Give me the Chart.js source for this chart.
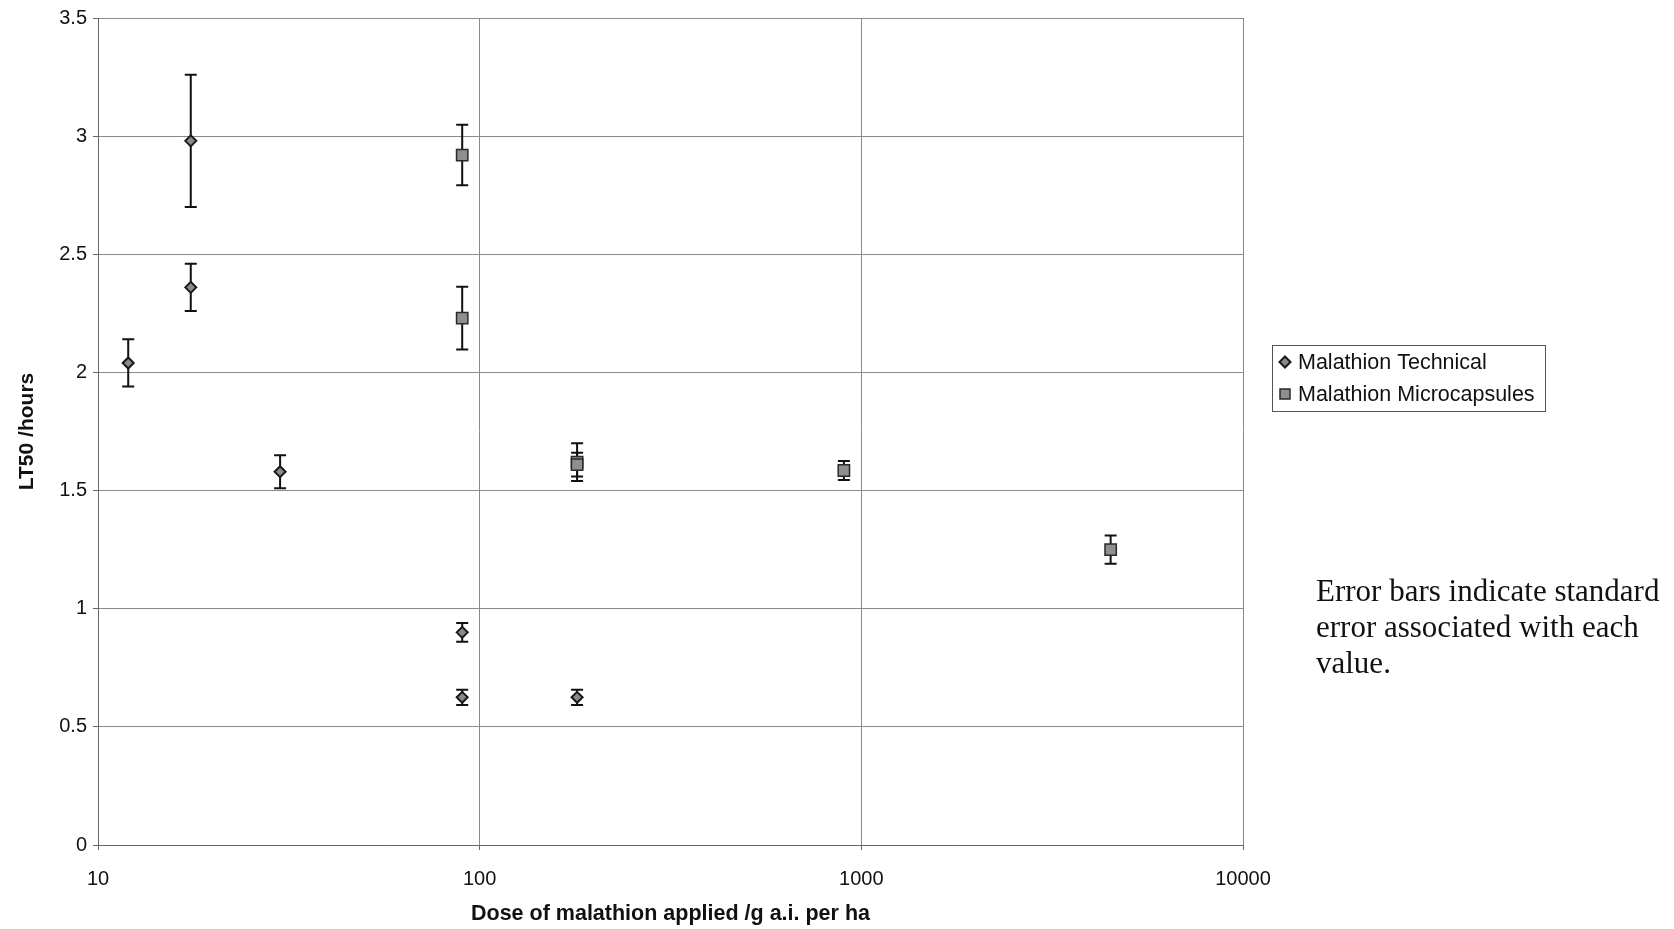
<!DOCTYPE html>
<html>
<head>
<meta charset="utf-8">
<title>LT50 vs malathion dose</title>
<script src="https://cdn.jsdelivr.net/npm/chart.js@4.4.1/dist/chart.umd.min.js"></script>
<style>
  html, body { margin: 0; padding: 0; background: #ffffff; }
  #wrap { position: relative; width: 1674px; height: 929px; }
  #chart { position: absolute; left: 0; top: 0; }
  #note {
    position: absolute; left: 1316px; top: 573px;
    font-family: "Liberation Serif", "Times New Roman", serif;
    font-size: 31px; line-height: 36px; color: #111;
    white-space: nowrap;
  }
</style>
</head>
<body>
<div id="wrap">
  <canvas id="chart" width="1674" height="929"></canvas>
  <div id="note">Error bars indicate standard<br>error associated with each<br>value.</div>
</div>
<script>
// Dose (g a.i. per ha), LT50 (hours) and standard error for each formulation
const technicalDose = [12, 17.5, 17.5, 30, 90, 90, 180];
const technicalLT50 = [2.04, 2.98, 2.36, 1.58, 0.90, 0.625, 0.625];
const technicalSE   = [0.10, 0.28, 0.10, 0.07, 0.04, 0.032, 0.032];

const microDose = [90, 90, 180, 180, 900, 4500];
const microLT50 = [2.92, 2.23, 1.62, 1.61, 1.585, 1.25];
const microSE   = [0.128, 0.133, 0.08, 0.05, 0.04, 0.06];

const xTicks = [10, 100, 1000, 10000];
const yTicks = [0, 0.5, 1, 1.5, 2, 2.5, 3, 3.5];

const seriesNames = ['Malathion Technical', 'Malathion Microcapsules'];

function toPoints(xs, ys) {
  return xs.map((x, i) => ({ x: x, y: ys[i] }));
}

// Vertical error bars with caps, drawn beneath the markers
const errorBars = {
  id: 'errorBars',
  beforeDatasetsDraw(chart) {
    const ctx = chart.ctx;
    const yScale = chart.scales.y;
    ctx.save();
    ctx.strokeStyle = '#111';
    ctx.lineWidth = 2;
    chart.data.datasets.forEach((ds, di) => {
      const meta = chart.getDatasetMeta(di);
      meta.data.forEach((pt, i) => {
        const v = ds.data[i].y, e = ds.errors[i];
        const top = yScale.getPixelForValue(v + e);
        const bot = yScale.getPixelForValue(v - e);
        const x = pt.x;
        ctx.beginPath();
        ctx.moveTo(x, top); ctx.lineTo(x, bot);
        ctx.moveTo(x - 6, top); ctx.lineTo(x + 6, top);
        ctx.moveTo(x - 6, bot); ctx.lineTo(x + 6, bot);
        ctx.stroke();
      });
    });
    ctx.restore();
  }
};

// Boxed legend to the right of the plot
const boxLegend = {
  id: 'boxLegend',
  afterDraw(chart) {
    const ctx = chart.ctx;
    const bx = 1272, by = 345, bw = 273, bh = 66;
    ctx.save();
    ctx.strokeStyle = '#555';
    ctx.lineWidth = 1;
    ctx.strokeRect(bx + 0.5, by + 0.5, bw, bh);
    ctx.font = '21.5px "Liberation Sans", Arial, sans-serif';
    ctx.textBaseline = 'middle';
    chart.data.datasets.forEach((ds, di) => {
      const cy = by + 17 + di * 32;
      ctx.fillStyle = ds.pointBackgroundColor;
      ctx.strokeStyle = ds.pointBorderColor;
      ctx.lineWidth = ds.pointBorderWidth;
      ctx.beginPath();
      if (ds.pointStyle === 'rect') {
        ctx.rect(bx + 8, cy - 5, 10, 10);
      } else {
        ctx.moveTo(bx + 13, cy - 5.5); ctx.lineTo(bx + 18.5, cy);
        ctx.lineTo(bx + 13, cy + 5.5); ctx.lineTo(bx + 7.5, cy);
        ctx.closePath();
      }
      ctx.fill(); ctx.stroke();
      ctx.fillStyle = '#111';
      ctx.fillText(ds.label, bx + 26, cy + 1);
    });
    ctx.restore();
  }
};

const chart = new Chart(document.getElementById('chart'), {
  type: 'scatter',
  data: {
    datasets: [
      {
        label: seriesNames[0],
        data: toPoints(technicalDose, technicalLT50),
        errors: technicalSE,
        pointStyle: 'rectRot',
        pointRadius: 5.5,
        pointBackgroundColor: '#8a8a8a',
        pointBorderColor: '#1a1a1a',
        pointBorderWidth: 2
      },
      {
        label: seriesNames[1],
        data: toPoints(microDose, microLT50),
        errors: microSE,
        pointStyle: 'rect',
        pointRadius: 8,
        pointBackgroundColor: '#8f8f8f',
        pointBorderColor: '#2a2a2a',
        pointBorderWidth: 1.5
      }
    ]
  },
  options: {
    responsive: false,
    animation: false,
    events: [],
    layout: { padding: { top: 18, right: 431, bottom: 0, left: 0 } },
    plugins: {
      legend: { display: false },
      tooltip: { enabled: false }
    },
    scales: {
      x: {
        type: 'logarithmic',
        min: 10,
        max: 10000,
        afterBuildTicks: (scale) => { scale.ticks = xTicks.map(v => ({ value: v })); },
        afterFit: (scale) => { scale.height = 84; },
        ticks: {
          color: '#111',
          padding: 17,
          maxRotation: 0,
          autoSkip: false,
          font: { family: '"Liberation Sans", Arial, sans-serif', size: 20 },
          callback: (v) => String(v)
        },
        grid: { color: '#8a8a8a', lineWidth: 1, tickLength: 5, tickColor: '#666' },
        border: { color: '#666' },
        title: {
          display: true,
          text: 'Dose of malathion applied /g a.i. per ha',
          color: '#111',
          padding: { top: 0, bottom: 2 },
          font: { family: '"Liberation Sans", Arial, sans-serif', size: 21.5, weight: 'bold' }
        }
      },
      y: {
        min: 0,
        max: 3.5,
        afterBuildTicks: (scale) => { scale.ticks = yTicks.map(v => ({ value: v })); },
        afterFit: (scale) => { scale.width = 98; },
        ticks: {
          color: '#111',
          padding: 6,
          font: { family: '"Liberation Sans", Arial, sans-serif', size: 20 },
          callback: (v) => String(v)
        },
        grid: { color: '#8a8a8a', lineWidth: 1, tickLength: 5, tickColor: '#666' },
        border: { color: '#666' },
        title: {
          display: true,
          text: 'LT50 /hours',
          color: '#111',
          padding: { top: 15, bottom: 0 },
          font: { family: '"Liberation Sans", Arial, sans-serif', size: 21, weight: 'bold' }
        }
      }
    }
  },
  plugins: [errorBars, boxLegend]
});
</script>
</body>
</html>
